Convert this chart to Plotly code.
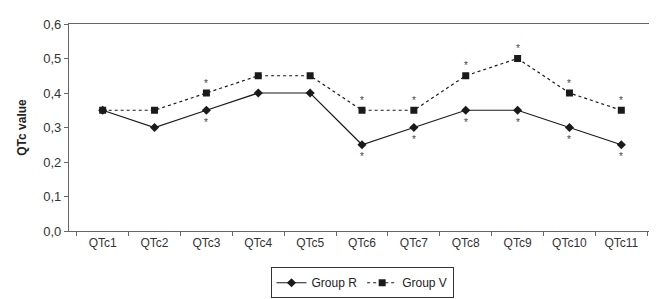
import plotly.graph_objects as go

categories = ["QTc1", "QTc2", "QTc3", "QTc4", "QTc5", "QTc6", "QTc7", "QTc8", "QTc9", "QTc10", "QTc11"]
group_r = [0.35, 0.30, 0.35, 0.40, 0.40, 0.25, 0.30, 0.35, 0.35, 0.30, 0.25]
group_v = [0.35, 0.35, 0.40, 0.45, 0.45, 0.35, 0.35, 0.45, 0.50, 0.40, 0.35]
significant = [False, False, True, False, False, True, True, True, True, True, True]
y_ticks = [0.0, 0.1, 0.2, 0.3, 0.4, 0.5, 0.6]

font = "Liberation Sans, Arial, sans-serif"
fig = go.Figure()
fig.add_trace(go.Scatter(x=categories, y=group_r, name="Group R", mode="lines+markers",
                         line=dict(color="#1a1a1a", width=1.2),
                         marker=dict(symbol="diamond", size=7, color="#1a1a1a")))
fig.add_trace(go.Scatter(x=categories, y=group_v, name="Group V", mode="lines+markers",
                         line=dict(color="#1a1a1a", width=1.2, dash="dot"),
                         marker=dict(symbol="square", size=7, color="#1a1a1a")))

for c, r, v, s in zip(categories, group_r, group_v, significant):
    if s:
        fig.add_annotation(x=c, y=v, text="*", showarrow=False, yshift=10,
                           font=dict(size=10, color="#444444", family=font))
        fig.add_annotation(x=c, y=r, text="*", showarrow=False, yshift=-12,
                           font=dict(size=10, color="#444444", family=font))

fig.update_layout(
    width=657, height=299,
    margin=dict(l=61, r=9, t=13, b=65),
    paper_bgcolor="white", plot_bgcolor="white",
    font=dict(family=font, size=12, color="#333"),
    separators=",.",
    showlegend=True,
    legend=dict(orientation="h", x=0.5, xanchor="center", y=-0.175, yanchor="top",
                bordercolor="#333", borderwidth=1, font=dict(size=12, color="#222"),
                itemwidth=30, tracegroupgap=0),
)
fig.update_xaxes(showline=True, linecolor="#666", linewidth=1.2, mirror=True,
                 ticks="outside", tickson="boundaries", ticklen=4, tickcolor="#666",
                 showgrid=False, tickfont=dict(size=12, color="#333"))
fig.update_yaxes(range=[0, 0.6], tickvals=y_ticks, tickformat=".1f",
                 showline=True, linecolor="#666", linewidth=1.2, mirror=True,
                 ticks="outside", ticklen=4, tickcolor="#666", showgrid=False,
                 zeroline=False,
                 title=dict(text="<b>QTc value</b>", font=dict(size=12, color="#222"), standoff=14),
                 tickfont=dict(size=13, color="#333"))

fig.write_html("out.html")
